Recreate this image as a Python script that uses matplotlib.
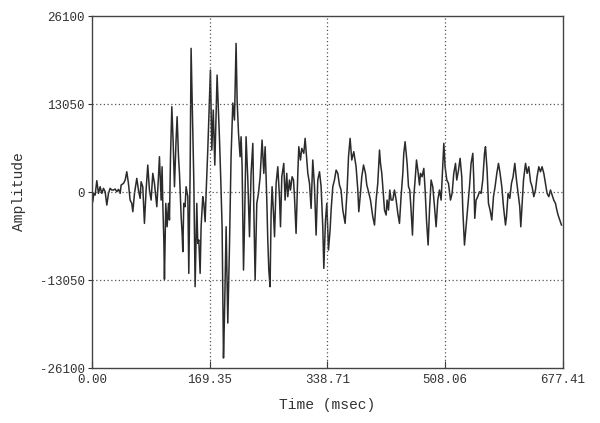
import matplotlib
matplotlib.use("Agg")
import matplotlib.pyplot as plt

# waveform (peaks and troughs), time in msec
time_ms = [
    0.0, 1.4, 2.9, 4.8, 7.2, 9.6, 12.0, 14.4, 16.8, 19.2,
    21.6, 24.0, 26.4, 28.8, 31.2, 33.6, 36.0, 38.4, 40.8, 42.2,
    45.6, 48.0, 50.3, 52.7, 55.1, 57.5, 59.0, 61.4, 64.7, 67.1,
    69.5, 70.9, 73.3, 75.7, 78.1, 80.5, 82.9, 85.3, 87.7, 90.1,
    93.5, 95.9,
    97.3, 99.7, 101.1, 102.1, 103.6, 104.5, 106.4, 108.3, 110.3, 111.7,
    113.2, 115.1, 116.9, 118.9, 121.2, 122.7, 124.7, 126.1, 128.5, 129.9,
    130.9, 132.3, 134.2, 135.6, 138.1, 139.5, 141.4, 142.8, 144.8, 146.7,
    148.6, 151.0, 152.4, 153.9, 155.8, 157.2, 159.6, 161.1, 163.0, 164.4,
    166.8,
    170.6, 172.6, 174.7, 176.9, 180.2, 183.7, 185.5, 187.4, 189.4, 190.8,
    193.2, 195.6, 198.0,
    200.3, 202.8, 205.2, 207.5, 209.0, 211.0, 213.3, 214.7, 216.2, 218.2,
    219.6, 221.9, 224.4, 226.8, 229.1, 231.6, 233.0, 234.9, 237.3, 239.7,
    242.1, 244.9, 247.4, 249.3, 251.7, 253.1, 254.6, 256.4, 257.9, 259.3,
    261.3, 262.8, 265.1, 267.5, 269.9, 271.4, 273.3, 276.1, 278.0, 280.4,
    281.9, 284.3, 285.8, 288.1, 290.1, 291.5, 293.8, 296.3,
    297.7, 300.1, 302.0, 304.9, 306.8, 309.2, 310.7, 313.1, 315.4, 317.8,
    320.3, 322.6, 325.0, 327.5, 329.8, 332.2, 333.7, 336.1, 338.0, 340.4,
    342.7, 344.2, 346.6, 349.0, 351.4, 353.8, 356.2, 358.5, 361.0, 364.3,
    367.2, 369.2, 371.5, 373.9, 376.8, 380.1, 382.6, 384.0, 386.4, 388.3,
    390.8, 393.6, 395.5, 398.0, 400.8, 404.1,
    406.6, 408.9, 411.3, 413.8, 415.2, 417.1, 418.5, 421.0, 423.3, 424.7,
    426.7, 428.6, 430.5, 432.9, 435.3, 437.7, 440.1, 442.5, 444.8, 447.3,
    448.7, 450.6, 453.5, 455.5, 457.3, 459.2, 461.2, 463.1, 465.0, 467.0,
    468.9, 471.3, 472.7, 475.0, 477.5, 479.4, 481.4, 483.7, 485.7, 488.0,
    490.4, 492.9, 495.2, 497.6, 500.1, 502.4,
    504.9, 506.3, 508.1, 510.6, 513.0, 515.9, 518.2, 520.6, 523.1, 524.9,
    527.4, 529.7, 532.1, 533.6, 536.0, 538.3, 540.8, 543.2, 545.5, 548.0,
    549.4, 550.8, 552.7, 555.1, 557.6, 559.9, 562.3, 564.8, 566.2, 568.5,
    570.5, 572.8, 575.3, 577.7, 580.0, 582.5, 584.9, 587.2, 589.7, 592.1,
    595.0,
    596.4, 598.7, 601.2, 603.6, 605.9, 608.4, 610.8, 613.1, 615.5, 617.0,
    618.9, 620.9, 623.8, 626.1, 628.5, 631.0, 633.3, 635.7, 638.1, 640.4,
    642.9, 645.3, 647.6, 650.1, 652.5, 654.8, 657.3, 659.7, 662.0, 664.4,
    666.9, 668.3, 670.6, 673.1, 675.5,
]

amplitude = [
    -1600, -1440, -200, -450, 1680, -200, 790, -200, 550, 50,
    -1930, -200, 550, 300, 300, 450, 50, 400, -200, 1040,
    1290, 1780, 3010, 1290, -1190, -1680, -2920, -200, 2030, 300,
    -940, 1530, 790, -4650, 300, 4000, 300, -1190, 2770, 1290,
    -2180, 2270,
    5240, -1190, 3750, -1680, -7120, -12950, -1680, -5150, -1680, -4150,
    5240, 12650, 7710, 790, 7710, 11170, 5240, 2770, -3660, -6130,
    -8850, -1680, -2180, 790, -690, -12060, 2770, 21310, 11670, 1780,
    -14040, -1680, -7610, -7120, -12060, -5150, -690, -1680, -4400, -200,
    6230,
    18090, 6230, 12160, 4000, 17350, 7710, 1780, -5150, -24620, -18540,
    -5150, -19430, -8110,
    5240, 13200, 10680, 22050, 13640, 8700, 5240, 8200, 3750, -11570,
    -5150, 8200, 1780, -6630, 2770, 7220, -2180, -13050, -1680, -200,
    2270, 7710, 2770, 6720, -1190, -7120, -11570, -14040, -3160, 790,
    -3160, -6630, 1290, 3750, -690, -5150, 2270, 4250, -1190, 2770,
    -690, 1780, 300, 2270, 1780, -690, -6130, 2770,
    6720, 4750, 6480, 5740, 7960, 4750, 2770, 1290, -2420, 4750,
    790, -6380, 1780, 3010, 790, -5150, -11320, -4150, -1680, -8600,
    -5640, -2670, 790, 1780, 3260, 2770, 1040, 300, -2670, -4650,
    300, 5240, 7960, 4750, 5980, 3750, 300, -2920, -200, 2270,
    4000, 2770, 1040, 50, -1190, -3660,
    -4890, -1190, 1290, 6230, 4250, 2770, 790, -2670, -3410, -1190,
    -2670, 300, -1190, -1190, 300, -1190, -3160, -4650, -690, 2770,
    5740, 7460, 4250, 790, 300, -2670, -6380, -690, 1780, 4750,
    3260, 1040, 2770, 2270, 3510, 300, -4150, -7860, -2670, 1780,
    790, -2180, -5150, -1190, 300, -1190,
    4250, 7220, 3750, 1780, 1290, -1190, -200, 2770, 4250, 1780,
    3260, 5000, 2270, -2670, -7860, -5150, -2180, 790, 4250, 5740,
    1780, -3900, -1190, -690, 50, -200, 1780, 5740, 6720, 3260,
    -1680, -2670, -4150, -690, 790, 2770, 4250, 2770, 790, -2180,
    -4890,
    -3660, -200, -940, 1290, 2270, 4250, 1780, -200, -2180, -5150,
    -1680, 1780, 4250, 2770, 3750, 1530, 790, -690, 300, 2270,
    3750, 3010, 3750, 2770, 1290, -200, -690, 300, -450, -1190,
    -1680, -2420, -3410, -4150, -4890,
]

x_ticks = [0.00, 169.35, 338.71, 508.06, 677.41]
y_ticks = [-26100, -13050, 0, 13050, 26100]

plt.rcParams['font.family'] = ['Liberation Mono', 'DejaVu Sans Mono']

fig = plt.figure(figsize=(6.0, 4.23), dpi=100)
ax = fig.add_axes([0.153, 0.13, 0.785, 0.832])

ax.plot(time_ms, amplitude, color='#2b2b2b', lw=1.1)

ax.set_xlim(x_ticks[0], x_ticks[-1])
ax.set_ylim(y_ticks[0], y_ticks[-1])
ax.set_xticks(x_ticks)
ax.set_xticklabels(["%.2f" % v for v in x_ticks])
ax.set_yticks(y_ticks)
ax.set_yticklabels([str(v) for v in y_ticks])

# dotted grid inside the box only
for v in x_ticks[1:-1]:
    ax.axvline(v, color='#555555', lw=0.9, ls=(0, (1, 2)))
for v in y_ticks[1:-1]:
    ax.axhline(v, color='#555555', lw=0.9, ls=(0, (1, 2)))

ax.tick_params(axis='x', direction='in', length=5, labelsize=9,
               colors='#333333', pad=4)
ax.tick_params(axis='y', direction='out', length=3, labelsize=9,
               colors='#333333', pad=2)
for s in ax.spines.values():
    s.set_color('#444444')
    s.set_linewidth(1.0)

ax.set_xlabel("Time (msec)", fontsize=10.5, color='#333333', labelpad=9)
ax.set_ylabel("Amplitude", fontsize=10.5, color='#333333', labelpad=10)

fig.savefig("out.png", dpi=100)
